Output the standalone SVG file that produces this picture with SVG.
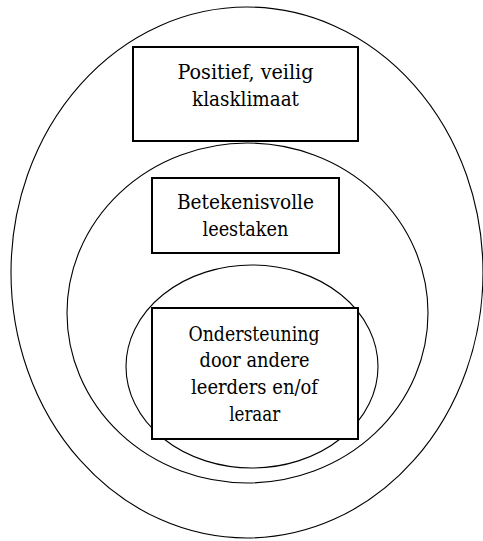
<svg xmlns="http://www.w3.org/2000/svg" width="483" height="541" viewBox="0 0 483 541">
<style>
.ring{fill:none;stroke:#000;stroke-width:1.1}
.box{fill:#fff;stroke:#000;stroke-width:2}
text{font-family:'DejaVu Serif Condensed','DejaVu Serif','Liberation Serif',serif;font-size:21px;fill:#000;text-anchor:middle}
</style>
<rect width="483" height="541" fill="#fff"/>
<g id="rings">
<ellipse id="outer" class="ring" cx="247" cy="272.5" rx="236" ry="265.5"/>
<ellipse id="middle" class="ring" cx="247.5" cy="313" rx="180.5" ry="170"/>
<ellipse id="inner" class="ring" cx="252" cy="366.5" rx="126" ry="101.5"/>
</g>
<g id="connectors"></g>
<g id="box1">
<rect class="box" x="133" y="47" width="225" height="94"/>
<text x="245.5" y="79" textLength="136" lengthAdjust="spacingAndGlyphs">Positief, veilig</text>
<text x="245.5" y="106" textLength="107" lengthAdjust="spacingAndGlyphs">klasklimaat</text>
</g>
<g id="box2">
<rect class="box" x="152" y="178" width="187" height="75"/>
<text x="245.5" y="209" textLength="137" lengthAdjust="spacingAndGlyphs">Betekenisvolle</text>
<text x="245.5" y="236" textLength="86" lengthAdjust="spacingAndGlyphs">leestaken</text>
</g>
<g id="box3">
<rect class="box" x="152" y="308" width="206" height="131"/>
<text x="254" y="341" textLength="131" lengthAdjust="spacingAndGlyphs">Ondersteuning</text>
<text x="254.5" y="367" textLength="110" lengthAdjust="spacingAndGlyphs">door andere</text>
<text x="254.5" y="394" textLength="127" lengthAdjust="spacingAndGlyphs">leerders en/of</text>
<text x="254.7" y="421" textLength="51" lengthAdjust="spacingAndGlyphs">leraar</text>
</g>
</svg>
